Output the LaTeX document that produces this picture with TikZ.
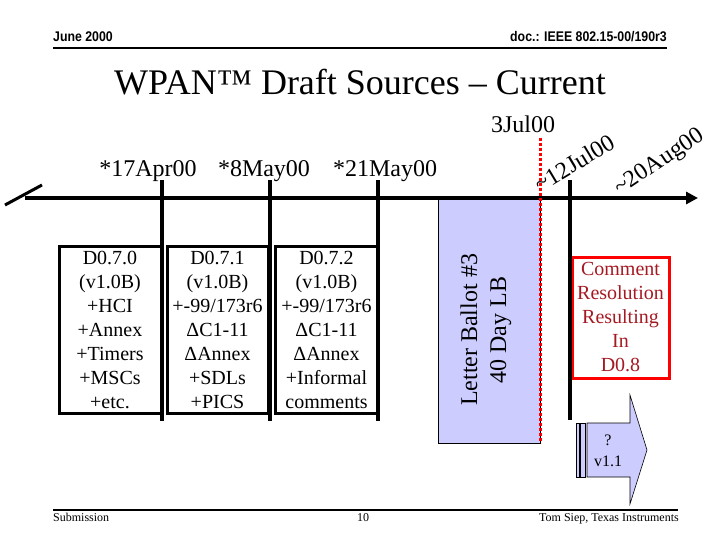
\documentclass[tikz,border=0pt]{standalone}
\usepackage{fontspec}
\setmainfont{Liberation Serif}
\newfontfamily\hdrfont[FakeStretch=0.88]{Liberation Sans}
\usetikzlibrary{arrows.meta}
\definecolor{lbfill}{RGB}{204,204,255}
\definecolor{crtext}{RGB}{165,25,35}
\tikzset{
  hdr/.style   = {font=\hdrfont\bfseries\fontsize{14}{16}\selectfont, inner sep=0pt},
  ftr/.style   = {font=\fontsize{12}{14}\selectfont, inner sep=0pt},
  datelbl/.style = {font=\fontsize{24}{29}\selectfont, inner sep=0pt},
  tick/.style  = {line width=4pt},
  draft/.style = {
    draw, line width=3pt,
    minimum height=167pt, inner sep=0pt,
    align=center, font=\fontsize{20}{24}\selectfont
  },
  crbox/.style = {draw=red, line width=3pt, text=crtext, minimum width=97pt,
    minimum height=121pt, inner sep=0pt, align=center,
    font=\fontsize{20}{24}\selectfont}
}

\begin{document}
\begin{tikzpicture}[x=1pt,y=-1pt]
\useasboundingbox (0,0) rectangle (720,540);
% header and footer
\coordinate (hdrL) at (53,48);
\coordinate (hdrR) at (667,48);
\draw[line width=2.5pt] (hdrL)--(hdrR);
\node[hdr, anchor=base west] (month) at (53,42) {June 2000};
\node[hdr, anchor=base east] (docno) at (667,42) {doc.: IEEE 802.15-00/190r3};
\node[anchor=base, inner sep=0pt, font=\fontsize{36}{43}\selectfont] (title) at (360,95)
  {WPAN™ Draft Sources – Current};
\coordinate (ftrL) at (53,510);
\coordinate (ftrR) at (678,510);
\draw[line width=2pt] (ftrL)--(ftrR);
\node[ftr, anchor=base west] (subm) at (53,521) {Submission};
\node[ftr, anchor=base] (page) at (363,521) {10};
\node[ftr, anchor=base east] (author) at (679,521) {Tom Siep, Texas Instruments};

% letter ballot period (under the time line)
\node[draw, line width=0.6pt, fill=lbfill, minimum width=102pt, minimum height=245pt,
  inner sep=0pt] (ballot) at (489,320.5) {};
\node[rotate=90, align=center, font=\fontsize{24}{29}\selectfont] (ballottxt) at (486,330)
  {Letter Ballot \#3\\40 Day LB};

% time line with broken start
\coordinate (brkA) at (5,205);
\coordinate (brkB) at (42,185);
\draw[line width=3pt] (brkA)--(brkB);
\coordinate (tl0) at (25,198);
\coordinate (tl1) at (698,198);
\draw[tick, -{Triangle[length=12pt,width=12pt]}] (tl0)--(tl1);

% milestones
\node[datelbl, anchor=base] (apr17) at (148,177) {*17Apr00};
\node[datelbl, anchor=base] (may8)  at (264,177) {*8May00};
\node[datelbl, anchor=base] (may21) at (385,177) {*21May00};
\node[datelbl, anchor=base] (jul3)  at (523,133) {3Jul00};
\node[datelbl, anchor=base west, rotate=31] (jul12) at (540,193) {\textasciitilde12Jul00};
\node[datelbl, anchor=base west, rotate=34] (aug20) at (620,196) {\textasciitilde20Aug00};

% draft boxes
\node[draft, minimum width=102pt] (d070) at (110,329.5)
  {D0.7.0\\(v1.0B)\\+HCI\\+Annex\\+Timers\\+MSCs\\+etc.};
\node[draft, minimum width=101pt] (d071) at (217.5,329.5)
  {D0.7.1\\(v1.0B)\\+-99/173r6\\ΔC1-11\\ΔAnnex\\+SDLs\\+PICS};
\node[draft, minimum width=103pt] (d072) at (326.5,329.5)
  {D0.7.2\\(v1.0B)\\+-99/173r6\\ΔC1-11\\ΔAnnex\\+Informal\\comments};

\node[crbox] (resol) at (620.5,317.5) {Comment\\Resolution\\Resulting\\In\\D0.8};

% vertical ticks
\coordinate (aprT) at (162,180);  \coordinate (aprB) at (162,421);
\coordinate (mayT) at (270,180);  \coordinate (mayB) at (270,421);
\coordinate (m21T) at (378,180);  \coordinate (m21B) at (378,421);
\coordinate (julT) at (570,180);  \coordinate (julB) at (570,420);
\draw[tick] (aprT)--(aprB);
\draw[tick] (mayT)--(mayB);
\draw[tick] (m21T)--(m21B);
\draw[tick] (julT)--(julB);

% end of letter ballot
\coordinate (lbT) at (540,138);
\coordinate (lbB) at (540,443);
\draw[red, line width=3pt, dash pattern=on 3pt off 2pt] (lbT)--(lbB);

% striped arrow to v1.1
\draw[fill=lbfill, line width=0.6pt] (576,423) rectangle (579,477);
\draw[fill=lbfill, line width=0.6pt] (580.5,423) rectangle (585,477);
\draw[fill=lbfill, line width=0.6pt] (587,423) -- (630,423) -- (630,395) -- (647,450)
  -- (630,504) -- (630,477) -- (587,477) -- cycle;
\node[align=center, font=\fontsize{16}{21}\selectfont, inner sep=0pt] (v11) at (608,451) {?\\v1.1};
\end{tikzpicture}
\end{document}
